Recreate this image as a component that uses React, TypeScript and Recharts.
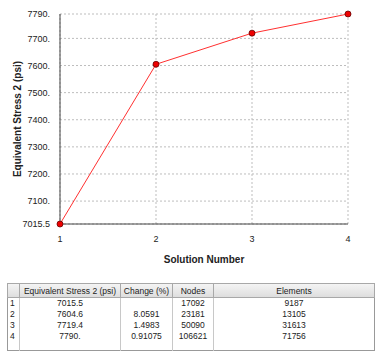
import { LineChart, Line, XAxis, YAxis, CartesianGrid } from "recharts";

const solutions = [1, 2, 3, 4];
const stress = [7015.5, 7604.6, 7719.4, 7790];
const stressLabels = ["7015.5", "7604.6", "7719.4", "7790."];
const changes = ["", "8.0591", "1.4983", "0.91075"];
const nodes = [17092, 23181, 50090, 106621];
const elements = [9187, 13105, 31613, 71756];
const yTicks = [7015.5, 7100, 7200, 7300, 7400, 7500, 7600, 7700, 7790];

const data = solutions.map((s, i) => ({ solution: s, stress: stress[i] }));

const font = "'Liberation Sans', Arial, sans-serif";
const cellBorder = "1px solid #c8c8c8";

export default function App() {
	return (
		<div style={{ position: "absolute", left: 0, top: 0, width: 385, height: 361, background: "#fff", fontFamily: font }}>
			<LineChart width={385} height={275} data={data} margin={{ top: 14, right: 37, left: 0, bottom: 0 }}>
				<CartesianGrid stroke="#bdbdbd" strokeDasharray="2 2" />
				<XAxis
					dataKey="solution"
					type="number"
					domain={[1, 4]}
					ticks={solutions}
					height={51}
					tickLine={false}
					axisLine={{ stroke: "#444" }}
					tick={{ fill: "#222", fontSize: 9, fontFamily: font }}
					tickMargin={6}
					label={{ value: "Solution Number", position: "insideBottom", offset: 12, fill: "#222", fontSize: 10, fontWeight: "bold", fontFamily: font }}
				/>
				<XAxis xAxisId="top" orientation="top" type="number" domain={[1, 4]} height={0} tick={false} tickLine={false} axisLine={{ stroke: "#444" }} />
				<YAxis
					type="number"
					domain={[7015.5, 7790]}
					ticks={yTicks}
					width={60}
					interval={0}
					tickLine={false}
					axisLine={{ stroke: "#444" }}
					tick={{ fill: "#222", fontSize: 9, fontFamily: font }}
					tickMargin={4}
					tickFormatter={(v: number) => (v === 7015.5 ? "7015.5" : `${v}.`)}
					label={{ value: "Equivalent Stress 2 (psi)", angle: -90, position: "insideLeft", offset: 17, style: { textAnchor: "middle" }, fill: "#222", fontSize: 10, fontWeight: "bold", fontFamily: font }}
				/>
				<YAxis yAxisId="right" orientation="right" width={0} tick={false} tickLine={false} axisLine={{ stroke: "#444" }} />
				<Line
					dataKey="stress"
					stroke="#ff3030"
					strokeWidth={1}
					dot={{ r: 3, fill: "#ee0000", stroke: "#600", strokeWidth: 0.8 }}
					isAnimationActive={false}
				/>
			</LineChart>
			<table
				style={{
					position: "absolute",
					left: 7,
					top: 283,
					width: 368,
					borderCollapse: "collapse",
					border: "1px solid #999",
					fontSize: 8.5,
					fontFamily: font,
					color: "#222",
					tableLayout: "fixed",
				}}
			>
				<colgroup>
					<col style={{ width: 12 }} />
					<col style={{ width: 101 }} />
					<col style={{ width: 52 }} />
					<col style={{ width: 41 }} />
					<col />
				</colgroup>
				<thead>
					<tr style={{ background: "linear-gradient(#f4f4f4, #dcdcdc)", height: 14 }}>
						{["", "Equivalent Stress 2 (psi)", "Change (%)", "Nodes", "Elements"].map((h, i) => (
							<th key={i} style={{ fontWeight: "normal", border: "1px solid #a8a8a8", padding: 0, whiteSpace: "nowrap" }}>
								{h}
							</th>
						))}
					</tr>
				</thead>
				<tbody>
					{solutions.map((s, i) => (
						<tr key={s} style={{ height: 11 }}>
							<td style={{ borderRight: cellBorder, padding: "0 2px", lineHeight: "11px" }}>{s}</td>
							<td style={{ borderRight: cellBorder, textAlign: "center", padding: 0, lineHeight: "11px" }}>{stressLabels[i]}</td>
							<td style={{ borderRight: cellBorder, textAlign: "center", padding: 0, lineHeight: "11px" }}>{changes[i]}</td>
							<td style={{ borderRight: cellBorder, textAlign: "center", padding: 0, lineHeight: "11px" }}>{nodes[i]}</td>
							<td style={{ textAlign: "center", padding: 0, lineHeight: "11px" }}>{elements[i]}</td>
						</tr>
					))}
					<tr style={{ height: 8 }}>
						<td style={{ borderRight: cellBorder }} />
						<td style={{ borderRight: cellBorder }} />
						<td style={{ borderRight: cellBorder }} />
						<td style={{ borderRight: cellBorder }} />
						<td />
					</tr>
				</tbody>
			</table>
		</div>
	);
}
